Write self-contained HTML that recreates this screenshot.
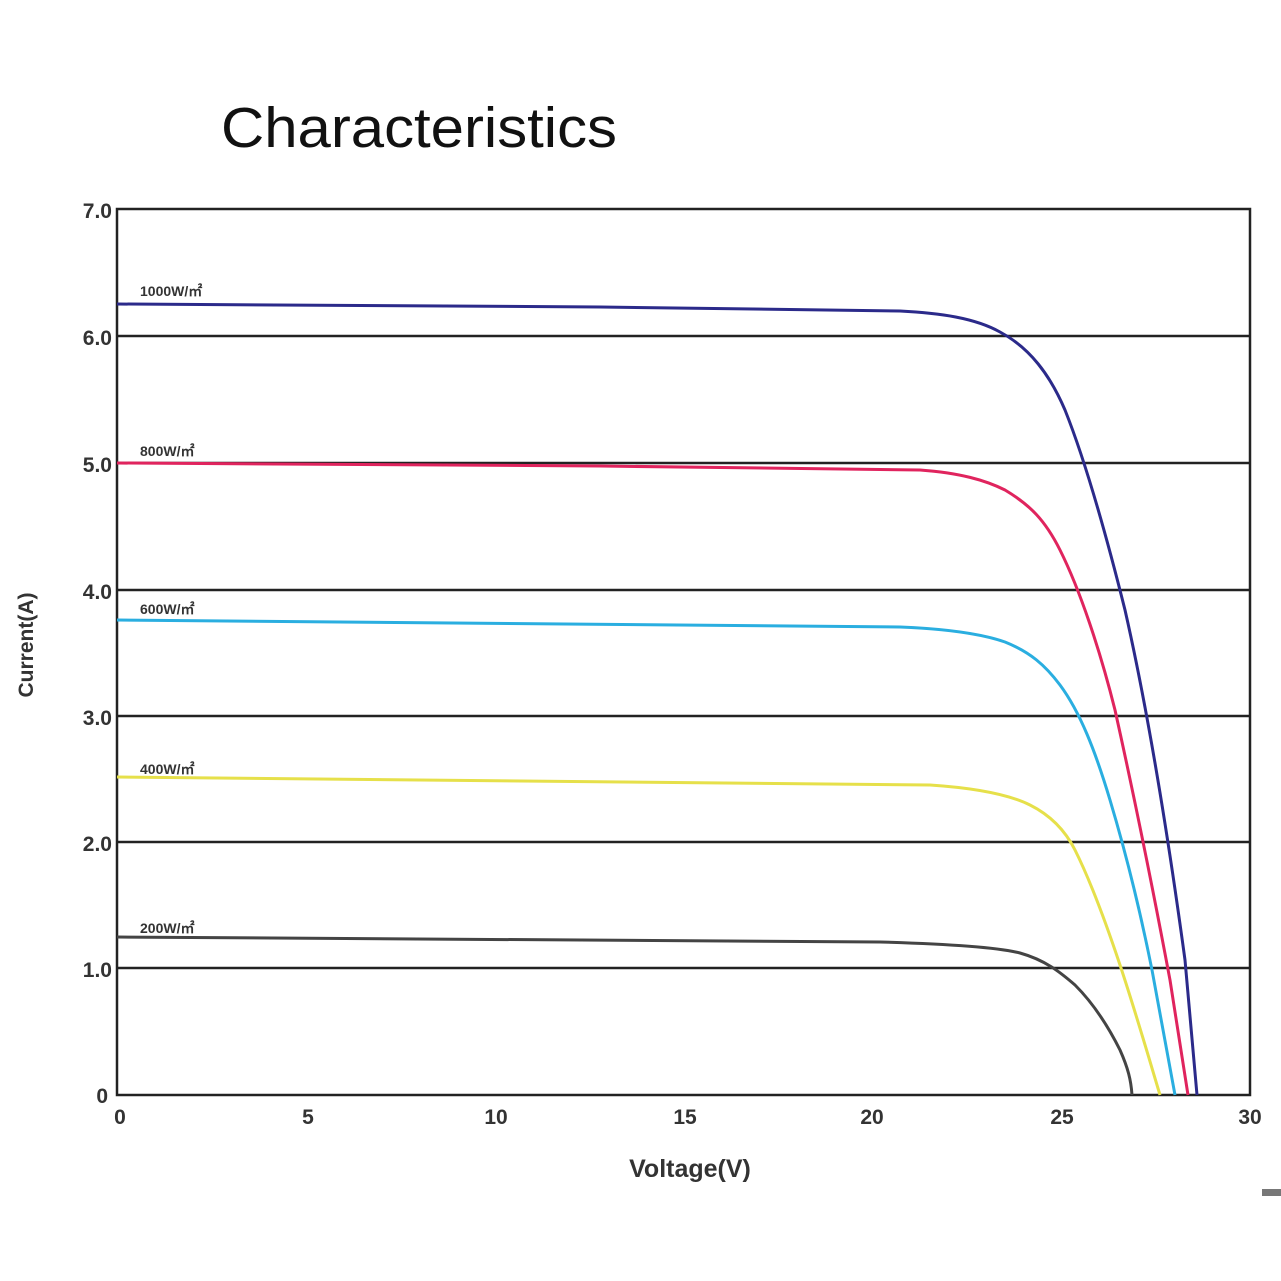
<!DOCTYPE html>
<html><head><meta charset="utf-8"><style>
html,body{margin:0;padding:0;background:#fff;}
svg{display:block;}
text{font-family:"Liberation Sans","DejaVu Sans",sans-serif;}
</style></head><body>
<svg width="1281" height="1281" viewBox="0 0 1281 1281" xmlns="http://www.w3.org/2000/svg">
<rect width="1281" height="1281" fill="#fff"/>
<text x="221" y="147" font-size="57" fill="#111" textLength="396" lengthAdjust="spacingAndGlyphs">Characteristics</text>
<g stroke="#222" stroke-width="2.5" fill="none">
<rect x="117" y="209" width="1133" height="886"/>
<line x1="117" y1="336" x2="1250" y2="336"/>
<line x1="117" y1="463" x2="1250" y2="463"/>
<line x1="117" y1="590" x2="1250" y2="590"/>
<line x1="117" y1="716" x2="1250" y2="716"/>
<line x1="117" y1="842" x2="1250" y2="842"/>
<line x1="117" y1="968" x2="1250" y2="968"/>
</g>
<g font-size="21" fill="#333" text-anchor="end" font-weight="bold">
<text x="112" y="218">7.0</text>
<text x="112" y="345">6.0</text>
<text x="112" y="472">5.0</text>
<text x="112" y="599">4.0</text>
<text x="112" y="725">3.0</text>
<text x="112" y="851">2.0</text>
<text x="112" y="977">1.0</text>
<text x="108" y="1103">0</text>
</g>
<g font-size="21" fill="#333" text-anchor="middle" font-weight="bold">
<text x="120" y="1124">0</text>
<text x="308" y="1124">5</text>
<text x="496" y="1124">10</text>
<text x="685" y="1124">15</text>
<text x="872" y="1124">20</text>
<text x="1062" y="1124">25</text>
<text x="1250" y="1124">30</text>
</g>
<text x="690" y="1177" font-size="25" font-weight="bold" fill="#333" text-anchor="middle">Voltage(V)</text>
<text transform="translate(33,645) rotate(-90)" font-size="21" font-weight="bold" fill="#333" text-anchor="middle">Current(A)</text>
<g fill="none" stroke-width="3" stroke-linejoin="round">
<path stroke="#2b2a8a" d="M117,304 L600,307 L900,311 C940,313 975,318 1000,332 C1030,348 1050,375 1065,410 C1085,460 1105,530 1125,610 C1150,720 1170,850 1185,960 L1197,1095"/>
<path stroke="#e0245e" d="M117,463 L600,466 L920,470 C960,473 985,480 1005,490 C1030,505 1045,520 1060,550 C1080,590 1100,650 1115,710 C1135,800 1155,900 1170,980 L1188,1095"/>
<path stroke="#2aaee0" d="M117,620 L900,627 C950,629 985,635 1005,642 C1030,652 1045,665 1060,685 C1080,712 1095,750 1110,800 C1125,850 1140,910 1152,970 L1175,1095"/>
<path stroke="#e6e04a" d="M117,777 L930,785 C975,788 1010,795 1030,805 C1050,815 1065,830 1075,850 C1090,880 1105,920 1120,965 C1135,1010 1148,1055 1160,1095"/>
<path stroke="#444" d="M117,937 L880,942 C950,944 1000,948 1020,953 C1045,960 1060,972 1075,985 C1095,1005 1110,1030 1120,1050 C1128,1068 1131,1080 1132,1095"/>
</g>
<g font-size="14" font-weight="bold" fill="#333">
<text x="140" y="296">1000W/㎡</text>
<text x="140" y="456">800W/㎡</text>
<text x="140" y="614">600W/㎡</text>
<text x="140" y="774">400W/㎡</text>
<text x="140" y="933">200W/㎡</text>
</g>
<rect x="1262" y="1189" width="19" height="7" fill="#777"/>
</svg>
</body></html>
